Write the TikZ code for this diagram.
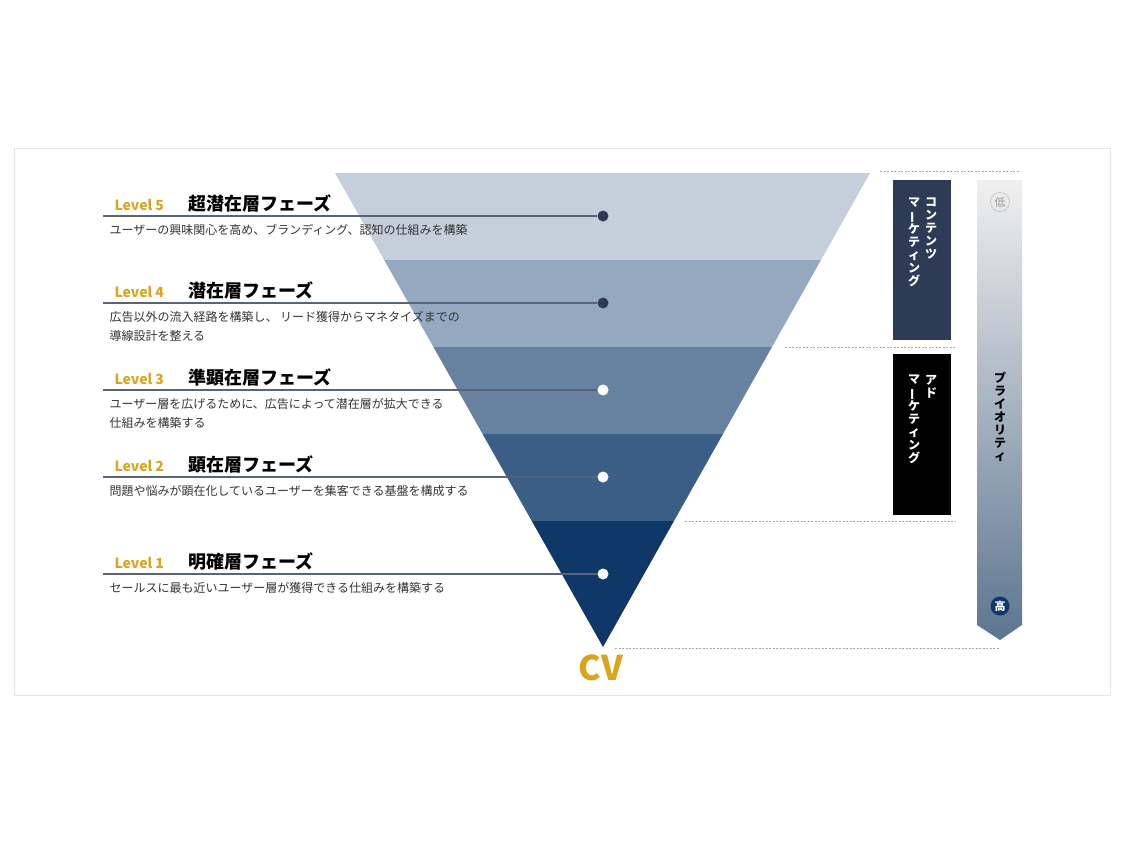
\documentclass[tikz,border=0pt]{standalone}
\usepackage{fontspec}
\setmainfont{Noto Sans CJK JP}
\newfontfamily\jpbold{Noto Sans CJK JP}[BoldFont={* Bold}]
\usepackage{graphicx}
\definecolor{gold}{HTML}{D9A520}
\definecolor{bandA}{HTML}{C5CFDB}
\definecolor{bandB}{HTML}{94A9BF}
\definecolor{bandC}{HTML}{6682A0}
\definecolor{bandD}{HTML}{3A5E86}
\definecolor{bandE}{HTML}{0F3868}
\definecolor{lineblue}{HTML}{5A6478}
\definecolor{navybox}{HTML}{2E3B55}
\newcommand{\vbar}{\rotatebox[origin=c]{90}{ー}}
\tikzset{
  levellabel/.style={anchor=base west,text=gold,font=\bfseries\fontsize{14}{14}\selectfont},
  phasetitle/.style={anchor=base west,font=\bfseries\fontsize{18}{18}\selectfont},
  phasedesc/.style={anchor=north west,align=left,text=black!80,font=\fontsize{12}{19}\selectfont},
  guideline/.style={draw=lineblue,line width=1.2pt},
  gapline/.style={draw=black!35,dashed,dash pattern=on 2pt off 1.5pt,thin},
  vtext/.style={align=center,text=white,font=\bfseries\fontsize{12}{13}\selectfont,inner sep=0pt,anchor=north},
}
\begin{document}
\begin{tikzpicture}[x=1pt,y=-1pt]
  \useasboundingbox (0,0) rectangle (1124,844);
  \draw[black!10] (14,148) rectangle (1110,695);
  %funnel
  \begin{scope}
    \clip (335,173) -- (870,173) -- (603,647) -- cycle;
    \fill[bandA] (300,170) rectangle (900,260);
    \fill[bandB] (300,260) rectangle (900,347);
    \fill[bandC] (300,347) rectangle (900,434);
    \fill[bandD] (300,434) rectangle (900,521);
    \fill[bandE] (300,521) rectangle (900,650);
  \end{scope}
  \node[text=gold,font=\bfseries\fontsize{34}{34}\selectfont] (cv) at (601,668) {CV};
  %dashed separators
  \draw[gapline] (880,171) -- (1020,171);
  \draw[gapline] (785,347) -- (955,347);
  \draw[gapline] (685,521) -- (955,521);
  \draw[gapline] (615,648) -- (1000,648);
  %levels
  \foreach \y/\lv/\ttl/\dsc/\dot in {
      216/5/超潜在層フェーズ/ユーザーの興味関心を高め、ブランディング、認知の仕組みを構築/navybox,
      303/4/潜在層フェーズ/{広告以外の流入経路を構築し、 リード獲得からマネタイズまでの\\導線設計を整える}/navybox,
      390/3/準顕在層フェーズ/{ユーザー層を広げるために、広告によって潜在層が拡大できる\\仕組みを構築する}/white,
      477/2/顕在層フェーズ/問題や悩みが顕在化しているユーザーを集客できる基盤を構成する/white,
      574/1/明確層フェーズ/セールスに最も近いユーザー層が獲得できる仕組みを構築する/white}{
    \node[levellabel] (lv\lv) at (111,\y-6) {Level \lv};
    \node[phasetitle] (ttl\lv) at (185,\y-6) {\ttl};
    \coordinate (ls\lv) at (103,\y);
    \node[circle,fill=\dot,inner sep=0pt,minimum size=11pt] (dot\lv) at (603,\y) {};
    \draw[guideline] (ls\lv) -- (dot\lv);
    \node[phasedesc] (dsc\lv) at (106,\y+5) {\dsc};
  }
  %right boxes
  \fill[navybox] (893,180) rectangle (951,340);
  \node[vtext] (cm1) at (931,198) {コ\\ン\\テ\\ン\\ツ};
  \node[vtext] (cm2) at (914,198) {マ\\\vbar\\ケ\\テ\\ィ\\ン\\グ};
  \fill[black] (893,354) rectangle (951,515);
  \node[vtext] (am1) at (931,375) {ア\\ド};
  \node[vtext] (am2) at (914,375) {マ\\\vbar\\ケ\\テ\\ィ\\ン\\グ};
  %priority arrow
  \shade[top color=black!6,bottom color=bandC!90!black] (977,180) -- (1022,180) -- (1022,625) -- (1000,640) -- (977,625) -- cycle;
  \node[circle,draw=black!30,text=black!40,inner sep=1pt,minimum size=19pt,font=\fontsize{11}{11}\selectfont] (low) at (1000,202) {低};
  \node[circle,fill=bandE,text=white,inner sep=1pt,minimum size=19pt,font=\bfseries\fontsize{11}{11}\selectfont] (high) at (1000,606) {高};
  \node[vtext,text=black] (prio) at (1000,372) {プ\\ラ\\イ\\オ\\リ\\テ\\ィ};
\end{tikzpicture}
\end{document}
